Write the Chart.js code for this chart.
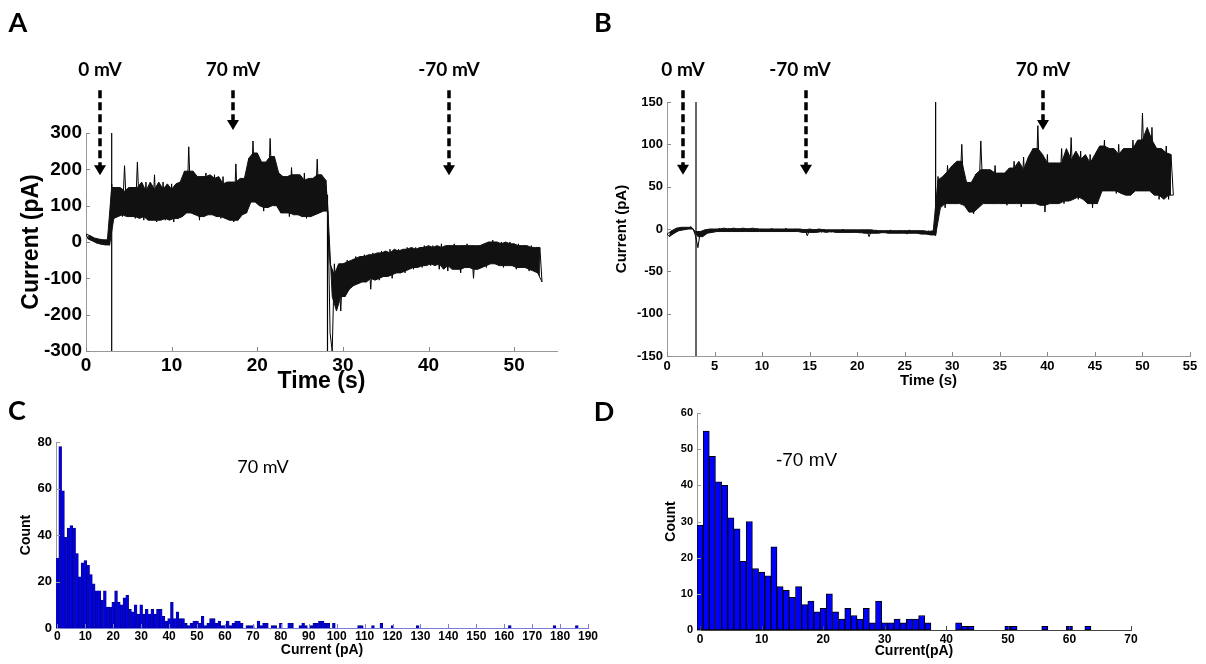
<!DOCTYPE html>
<html>
<head>
<meta charset="utf-8">
<script src="https://cdn.jsdelivr.net/npm/chart.js@4.4.1/dist/chart.umd.min.js"></script>
<style>
  body { margin: 0; background: #fff; width: 1206px; height: 664px; position: relative; overflow: hidden; }
  canvas { position: absolute; left: 0; top: 0; }
</style>
</head>
<body>
<canvas id="chartA" width="1206" height="664"></canvas>
<canvas id="chartB" width="1206" height="664"></canvas>
<canvas id="chartC" width="1206" height="664"></canvas>
<canvas id="chartD" width="1206" height="664"></canvas>
<script>
// ---- data ----
// recordings are sampled every 0.25 s, alternating upper / lower edge of the noisy trace
const timeStep = 0.25;

const traceA = [
  // 0 mV
  22, 8, 17, 3, 11, -3, 8, -6, 6, -8, 5, -9,
  // 70 mV
  160, 65, 150, 75, 140, 70, 210, 80, 135, 70, 150, 65, 220, 75, 140, 60, 165, 70, 130, 60,
  185, 55, 145, 65, 165, 60, 140, 70, 160, 55, 145, 65, 165, 70, 195, 80, 262, 90, 195, 75,
  155, 60, 180, 70, 190, 80, 175, 75, 185, 70, 160, 65, 180, 75, 150, 60, 165, 55, 215, 60,
  155, 75, 175, 80, 230, 110, 278, 120, 245, 100, 195, 85, 220, 95, 285, 130, 235, 100, 190, 80,
  180, 80, 170, 70, 205, 85, 185, 75, 170, 70, 190, 65, 160, 70, 175, 75, 228, 80, 185, 85,
  170, 90,
  // -70 mV
  -250, -300, -60, -150, -90, -190, -60, -150, -50, -130, -55, -120, -40, -115, -45, -110, -35, -100, -40, -130,
  -30, -100, -35, -105, -25, -95, -30, -90, -20, -100, -30, -85, -20, -80, -25, -85, -15, -70, -20, -75,
  -15, -65, -20, -70, -10, -60, -15, -65, -10, -60, -15, -75, -5, -60, -15, -80, -10, -65, -5, -75,
  -15, -85, -10, -70, -5, -60, -10, -100, -15, -75, -10, -65, -5, -70, 0, -55, 5, -60, -5, -65,
  0, -70, -5, -60, 0, -65, -10, -75, -5, -70, -10, -65, -15, -80, -10, -75, -20, -85, -15, -110
];
// capacitive spikes: [time, low, high]
const spikesA = [[3.0, -300, 300], [28.2, -300, 130]];

const traceB = [
  // 0 mV
  -6, -9, -2, -5, 1, -2, 2, -1, 2, 0, 3, 0,
  // -70 mV
  -8, -22, -3, -9, -1, -5, 0, -4, 0, -3, 1, -3, 0, -3, 1, -2, 0, -3, 1, -3,
  0, -2, 1, -3, 0, -3, 1, -2, 0, -3, 0, -3, 1, -2, 0, -3, 0, -3, 1, -3,
  0, -3, 0, -2, -1, -4, 0, -8, -1, -4, 0, -3, -1, -4, 0, -3, -1, -4, -1, -3,
  -1, -4, 0, -4, -1, -4, -1, -3, -2, -5, -1, -4, -1, -9, -2, -5, -1, -4, -2, -5,
  -2, -4, -1, -5, -2, -5, -2, -4, -2, -6, -1, -5, -2, -5, -2, -6, -3, -6, -2, -7,
  -3, -8,
  // 70 mV
  62, 30, 58, 25, 75, 30, 68, 30, 80, 35, 100, 28, 55, 20, 52, 18, 65, 25, 104, 32,
  70, 30, 62, 30, 75, 33, 66, 30, 60, 28, 72, 30, 80, 32, 66, 26, 85, 30, 70, 30,
  95, 32, 122, 28, 72, 20, 88, 30, 78, 30, 72, 33, 95, 30, 78, 33, 108, 38, 82, 35,
  92, 38, 78, 30, 88, 25, 75, 30, 98, 45, 105, 50, 95, 45, 88, 42, 100, 45, 85, 40,
  95, 40, 105, 45, 90, 45, 137, 50, 105, 45, 120, 40, 95, 35, 90, 40, 98, 35, 88, 40
];
const spikesB = [[3.05, -150, 150], [28.25, -5, 150]];

// histograms, 1 pA bins starting at 0
const countsC = [
  30, 78, 59, 39, 43, 44, 43, 32, 22, 28,
  29, 27, 23, 19, 16, 16, 12, 16, 9, 9,
  11, 16, 11, 10, 13, 14, 8, 7, 10, 6,
  10, 6, 8, 6, 8, 6, 8, 8, 5, 3,
  4, 11, 4, 7, 4, 4, 2, 1, 2, 3,
  3, 2, 5, 1, 2, 4, 4, 2, 3, 1,
  1, 3, 1, 2, 3, 3, 2, 0, 1, 1,
  1, 0, 3, 1, 2, 2, 0, 1, 1, 0,
  2, 0, 0, 2, 2, 0, 0, 1, 2, 1,
  0, 1, 2, 2, 3, 3, 2, 2, 0, 2,
  0, 0, 0, 0, 0, 0, 0, 0, 1, 1,
  0, 0, 0, 1, 0, 0, 2, 0, 0, 0,
  1, 0, 0, 0, 0, 0, 0, 0, 0, 1,
  0, 0, 0, 0, 0, 0, 0, 0, 0, 0,
  0, 0, 0, 0, 0, 0, 0, 0, 0, 0,
  0, 0, 0, 0, 0, 0, 0, 0, 0, 0,
  0, 0, 1, 0, 0, 0, 0, 0, 0, 0,
  0, 0, 0, 0, 0, 0, 0, 0, 1, 0,
  0, 0, 0, 0, 0, 0, 1, 0, 0, 0
];
const countsD = [
  29, 55, 48, 41, 40, 31, 28, 19, 30, 17,
  16, 15, 23, 12, 11, 9, 12, 7, 8, 5,
  6, 10, 5, 3, 6, 4, 3, 6, 2, 8,
  2, 2, 3, 2, 3, 3, 4, 2, 0, 0,
  0, 0, 2, 1, 1, 0, 0, 0, 0, 0,
  1, 1, 0, 0, 0, 0, 1, 0, 0, 0,
  1, 0, 0, 1, 0, 0, 0, 0, 0, 0
];

// tick labels
const xTicksA = [0, 10, 20, 30, 40, 50];
const yTicksA = [-300, -200, -100, 0, 100, 200, 300];
const xTicksB = [0, 5, 10, 15, 20, 25, 30, 35, 40, 45, 50, 55];
const yTicksB = [-150, -100, -50, 0, 50, 100, 150];
const xTicksC = [0, 10, 20, 30, 40, 50, 60, 70, 80, 90, 100, 110, 120, 130, 140, 150, 160, 170, 180, 190];
const yTicksC = [0, 20, 40, 60, 80];
const xTicksD = [0, 10, 20, 30, 40, 50, 60, 70];
const yTicksD = [0, 10, 20, 30, 40, 50, 60];

// voltage step markers: label, time, arrow start, arrow tip (in pA)
const arrowsA = [
  { label: '0 mV', t: 1.6, from: 418, to: 184 },
  { label: '70 mV', t: 17.2, from: 418, to: 308 },
  { label: '-70 mV', t: 42.4, from: 418, to: 184 }
];
const arrowsB = [
  { label: '0 mV', t: 1.7, from: 164, to: 64 },
  { label: '-70 mV', t: 14.6, from: 164, to: 64, dx: -6 },
  { label: '70 mV', t: 39.5, from: 164, to: 117 }
];

Chart.defaults.font.family = "'Liberation Sans', Arial, sans-serif";
Chart.defaults.color = '#000';

function toPoints(values) {
  return values.map((v, i) => ({ x: i * timeStep, y: v }));
}
function spikeSets(spikes) {
  return spikes.map(s => ({
    data: [{ x: s[0], y: s[1] }, { x: s[0], y: s[2] }],
    borderColor: '#000', borderWidth: 1.2, pointRadius: 0, fill: false
  }));
}
// the dense core of the noise band: each edge point replaced by the median of itself and its neighbours
function coreEdge(pts) {
  return pts.map((p, i) => {
    const a = pts[Math.max(0, i - 1)].y, b = p.y, c = pts[Math.min(pts.length - 1, i + 1)].y;
    return { x: p.x, y: a + b + c - Math.max(a, b, c) - Math.min(a, b, c) };
  });
}
function traceSets(trace) {
  const pts = toPoints(trace);
  return [
    { data: coreEdge(pts.filter((p, i) => i % 2 === 0)), borderColor: '#111', borderWidth: 1, pointRadius: 0, fill: false },
    { data: coreEdge(pts.filter((p, i) => i % 2 === 1)), borderColor: '#111', borderWidth: 1, pointRadius: 0, fill: '-1', backgroundColor: '#111' },
    // raw trace through both edges, gives the hairy spikes
    { data: pts, borderColor: '#000', borderWidth: 1, pointRadius: 0, fill: false }
  ];
}
function fixedTicks(list) {
  return function (scale) { scale.ticks = list.map(v => ({ value: v })); };
}

// inward tick marks, voltage arrows and free text
const decor = {
  id: 'decor',
  afterDraw(chart, args, opts) {
    const ctx = chart.ctx;
    const xs = chart.scales.x, ys = chart.scales.y;
    ctx.save();
    ctx.lineWidth = 1;
    ctx.strokeStyle = opts.xTickColor || '#888';
    xs.ticks.forEach(t => {
      const p = Math.round(xs.getPixelForValue(t.value)) + 0.5;
      ctx.beginPath(); ctx.moveTo(p, xs.top); ctx.lineTo(p, xs.top - 4); ctx.stroke();
    });
    ctx.strokeStyle = opts.yTickColor || '#888';
    ys.ticks.forEach(t => {
      const p = Math.round(ys.getPixelForValue(t.value)) + 0.5;
      ctx.beginPath(); ctx.moveTo(ys.right, p); ctx.lineTo(ys.right + 4, p); ctx.stroke();
    });

    (opts.arrows || []).forEach(a => {
      const px = Math.round(xs.getPixelForValue(a.t));
      const y0 = ys.getPixelForValue(a.from);
      const y1 = ys.getPixelForValue(a.to);
      ctx.strokeStyle = '#000';
      ctx.fillStyle = '#000';
      ctx.lineWidth = 3.5;
      ctx.setLineDash([8, 4]);
      ctx.beginPath(); ctx.moveTo(px, y0); ctx.lineTo(px, y1 - 8); ctx.stroke();
      ctx.setLineDash([]);
      ctx.beginPath(); ctx.moveTo(px - 6, y1 - 10); ctx.lineTo(px, y1); ctx.lineTo(px + 6, y1 - 10); ctx.closePath(); ctx.fill();
      ctx.font = 'bold 19px Lato, sans-serif';
      ctx.textAlign = 'center';
      ctx.textBaseline = 'middle';
      ctx.fillText(a.label, px + (a.dx || 0), y0 - 20);
    });

    (opts.notes || []).forEach(n => {
      ctx.fillStyle = '#000';
      ctx.font = n.font;
      ctx.textAlign = 'center';
      ctx.textBaseline = 'middle';
      const px = n.t !== undefined ? xs.getPixelForValue(n.t) : n.px;
      const py = n.v !== undefined ? ys.getPixelForValue(n.v) : n.py;
      ctx.fillText(n.text, px, py);
    });
    ctx.restore();
  }
};

function axisFont(size) {
  return { family: "'Liberation Sans', Arial, sans-serif", weight: 'bold', size: size };
}

function traceChart(id, trace, spikes, cfg) {
  return new Chart(document.getElementById(id), {
    type: 'line',
    data: { datasets: traceSets(trace).concat(spikeSets(spikes)) },
    options: {
      responsive: false, animation: false, devicePixelRatio: 1,
      layout: { padding: cfg.padding },
      elements: { line: { tension: 0 } },
      plugins: {
        legend: { display: false }, tooltip: { enabled: false },
        filler: { propagate: false },
        decor: { arrows: cfg.arrows, notes: cfg.notes || [] }
      },
      scales: {
        x: {
          type: 'linear', min: 0, max: 55,
          afterBuildTicks: fixedTicks(cfg.xTicks),
          afterFit: s => { s.height = cfg.xHeight; },
          grid: { display: false, drawTicks: false },
          border: { color: '#999', width: 1 },
          ticks: { font: axisFont(cfg.tickSize), padding: cfg.xTickPad, maxRotation: 0, autoSkip: false },
          title: { display: true, text: 'Time (s)', font: axisFont(cfg.titleSize), padding: { top: 0, bottom: cfg.xTitlePad } }
        },
        y: {
          min: cfg.yMin, max: cfg.yMax,
          afterBuildTicks: fixedTicks(cfg.yTicks),
          afterFit: s => { s.width = cfg.yWidth; },
          grid: { display: false, drawTicks: false },
          border: { color: '#999', width: 1 },
          ticks: { font: axisFont(cfg.tickSize), padding: 4 },
          title: { display: true, text: 'Current (pA)', font: axisFont(cfg.titleSize), padding: { top: cfg.yTitlePad, bottom: 0 } }
        }
      }
    },
    plugins: [decor]
  });
}

function histChart(id, counts, cfg) {
  return new Chart(document.getElementById(id), {
    type: 'bar',
    data: {
      datasets: [{
        data: counts.map((c, i) => ({ x: i, y: c })),
        backgroundColor: cfg.fill,
        borderColor: cfg.edge,
        borderWidth: cfg.edgeWidth,
        borderSkipped: false,
        barPercentage: 1, categoryPercentage: 1
      }]
    },
    options: {
      responsive: false, animation: false, devicePixelRatio: 1,
      layout: { padding: cfg.padding },
      plugins: {
        legend: { display: false }, tooltip: { enabled: false },
        decor: { notes: cfg.notes, xTickColor: cfg.xAxisColor, yTickColor: '#999' }
      },
      scales: {
        x: {
          type: 'linear', min: -0.5, max: cfg.xMax, offset: false,
          afterBuildTicks: fixedTicks(cfg.xTicks),
          afterFit: s => { s.height = cfg.xHeight; },
          grid: { display: false, drawTicks: false },
          border: { color: cfg.xAxisColor, width: 1 },
          ticks: { font: axisFont(cfg.xTickSize), padding: cfg.xTickPad, maxRotation: 0, autoSkip: false },
          title: { display: true, text: cfg.xTitle, font: axisFont(cfg.titleSize), padding: { top: 0, bottom: cfg.xTitlePad } }
        },
        y: {
          min: 0, max: cfg.yMax,
          afterBuildTicks: fixedTicks(cfg.yTicks),
          afterFit: s => { s.width = cfg.yWidth; },
          grid: { display: false, drawTicks: false },
          border: { color: '#999', width: 1 },
          ticks: { font: axisFont(cfg.yTickSize), padding: 4 },
          title: { display: true, text: 'Count', font: axisFont(cfg.titleSize), padding: { top: cfg.yTitlePad, bottom: 0 } }
        }
      }
    },
    plugins: [decor]
  });
}

traceChart('chartA', traceA, spikesA, {
  padding: { left: 0, top: 133, right: 649, bottom: 269 },
  xTicks: xTicksA, yTicks: yTicksA, yMin: -300, yMax: 300,
  xHeight: 44, yWidth: 86, tickSize: 19, titleSize: 23,
  xTickPad: 3, xTitlePad: 0, yTitlePad: 18,
  arrows: arrowsA,
  notes: [
    { text: 'A', px: 18, py: 23, font: 'bold 27px Lato, sans-serif' },
    { text: 'B', px: 603, py: 23, font: 'bold 27px Lato, sans-serif' },
    { text: 'C', px: 17, py: 411, font: 'bold 27px Lato, sans-serif' },
    { text: 'D', px: 604, py: 412, font: 'bold 27px Lato, sans-serif' }
  ]
});

traceChart('chartB', traceB, spikesB, {
  padding: { left: 600, top: 102, right: 16, bottom: 269 },
  xTicks: xTicksB, yTicks: yTicksB, yMin: -150, yMax: 150,
  xHeight: 39, yWidth: 67, tickSize: 13, titleSize: 15,
  xTickPad: 3, xTitlePad: 5, yTitlePad: 13,
  arrows: arrowsB
});

histChart('chartC', countsC, {
  padding: { left: 0, top: 442, right: 618, bottom: 0 },
  fill: '#0000e0', edge: '#00006e', edgeWidth: 0.6,
  xMax: 190, yMax: 80, xTicks: xTicksC, yTicks: yTicksC,
  xHeight: 36, yWidth: 56, xTickSize: 12, yTickSize: 13, titleSize: 14,
  xTickPad: 1, xTitlePad: 5, yTitlePad: 18,
  xAxisColor: '#7a7ad8', xTitle: 'Current (pA)',
  notes: [{ text: '70 mV', t: 73.6, v: 69, font: '18px Lato, sans-serif' }]
});

histChart('chartD', countsD, {
  padding: { left: 600, top: 413, right: 75, bottom: 0 },
  fill: '#0000ff', edge: '#000000', edgeWidth: 1,
  xMax: 70, yMax: 60, xTicks: xTicksD, yTicks: yTicksD,
  xHeight: 34, yWidth: 97, xTickSize: 12, yTickSize: 11, titleSize: 14,
  xTickPad: 2, xTitlePad: 4, yTitlePad: 63,
  xAxisColor: '#444', xTitle: 'Current(pA)',
  notes: [{ text: '-70 mV', t: 17.3, v: 46.7, font: '19px "Liberation Sans", Arial, sans-serif' }]
});
</script>
</body>
</html>
